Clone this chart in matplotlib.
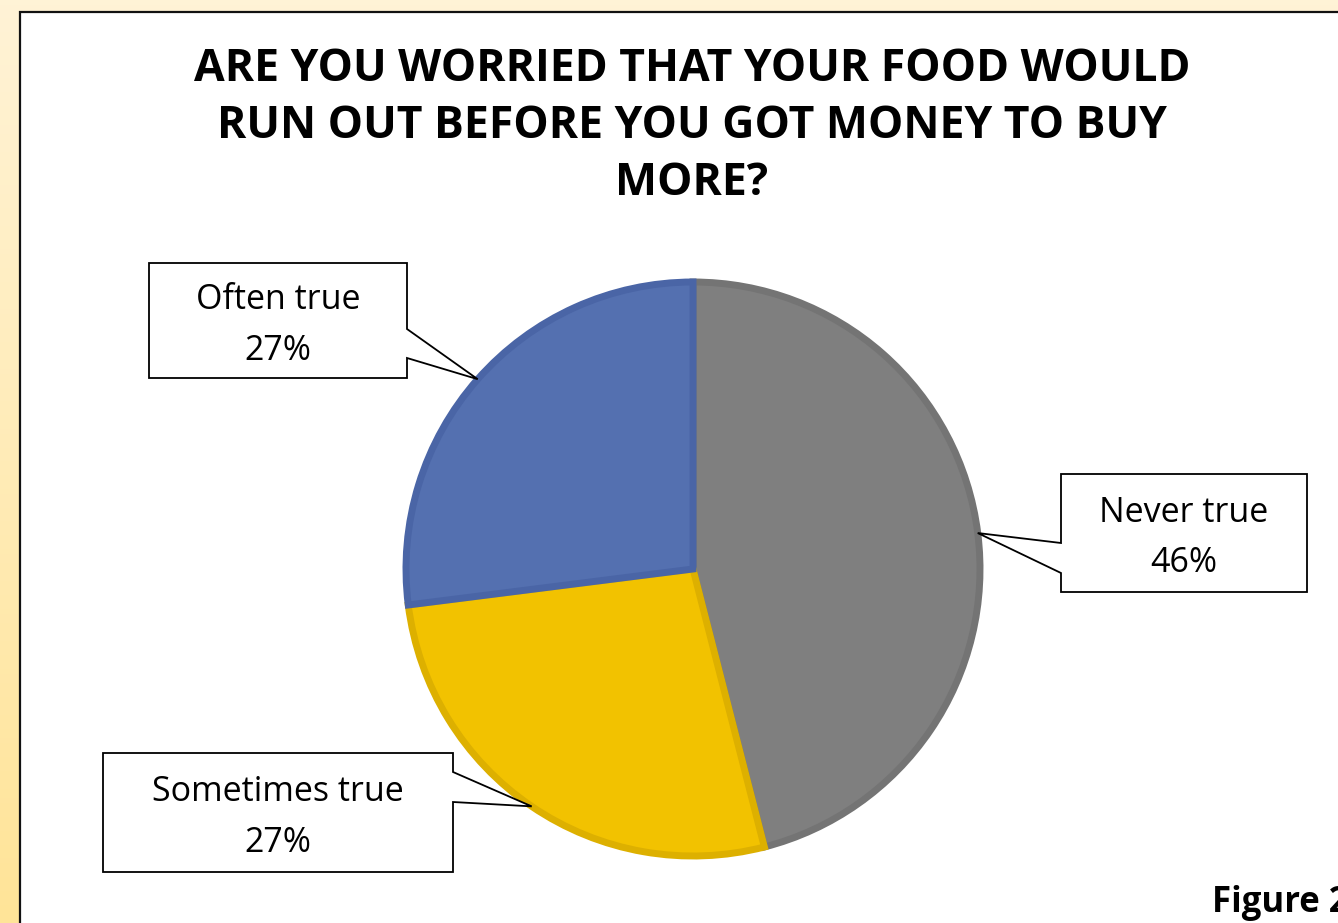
import numpy as np
import matplotlib
matplotlib.use("Agg")
import matplotlib.pyplot as plt
from matplotlib.patches import Rectangle, Polygon

# chart data
labels = ["Never true", "Sometimes true", "Often true"]
shares = [46, 27, 27]
fill_colors = ["#7F7F7F", "#F2C200", "#5470B0"]
edge_colors = ["#747474", "#DDB000", "#4A65A6"]
title = "ARE YOU WORRIED THAT YOUR FOOD WOULD\nRUN OUT BEFORE YOU GOT MONEY TO BUY\nMORE?"

W, H = 1338, 923
CX, CY, R = 693, 569, 287  # pie centre/radius in pixels (y from top)

# callout boxes: left, top, right, bottom, side of pointer, pointer base (y1, y2)
boxes = {
    "Never true": (1061, 474, 1307, 592, "left", (543, 573)),
    "Sometimes true": (103, 753, 453, 872, "right", (772, 802)),
    "Often true": (149, 263, 407, 378, "right", (329, 358)),
}


def fy(y):
    return H - y


fig = plt.figure(figsize=(W / 100, H / 100), dpi=100)
ax = fig.add_axes([0, 0, 1, 1])

# cream background with a warmer strip down the left side
grad = np.linspace(0, 1, 200)[:, None]
top = np.array([255, 243, 214]) / 255
bot = np.array([255, 228, 152]) / 255
img = top[None, None, :] * (1 - grad[:, :, None]) + bot[None, None, :] * grad[:, :, None]
ax.imshow(img, extent=[0, W, 0, H], aspect="auto", zorder=0)
ax.add_patch(Rectangle((20, -10), W, fy(12) + 10, facecolor="white",
                       edgecolor="#111111", linewidth=1.6, zorder=1))

wedges, _ = ax.pie(shares, colors=fill_colors, startangle=90, counterclock=False,
                   center=(CX, fy(CY)), radius=R, frame=True,
                   wedgeprops=dict(linewidth=5))
for w, ec in zip(wedges, edge_colors):
    w.set_edgecolor(ec)
    w.set_zorder(2)

for w, lab, val in zip(wedges, labels, shares):
    l, t, r, b, side, (p1, p2) = boxes[lab]
    mid = np.deg2rad((w.theta1 + w.theta2) / 2)
    tip = (CX + R * np.cos(mid), fy(CY) + R * np.sin(mid))
    if side == "right":
        pts = [(l, fy(t)), (r, fy(t)), (r, fy(p1)), tip, (r, fy(p2)), (r, fy(b)), (l, fy(b))]
    else:
        pts = [(l, fy(t)), (r, fy(t)), (r, fy(b)), (l, fy(b)), (l, fy(p2)), tip, (l, fy(p1))]
    ax.add_patch(Polygon(pts, closed=True, facecolor="white", edgecolor="black",
                         linewidth=1.3, zorder=3))
    ax.text((l + r) / 2, fy((t + b) / 2 + 5), f"{lab}\n{val}%", ha="center", va="center",
            fontsize=24.5, family="Open Sans", linespacing=1.62, zorder=4)

ax.text(692, fy(47), title, ha="center", va="top", fontsize=32, fontweight="bold",
        family="Open Sans", linespacing=1.35, zorder=4)
# the reference clips this text at the right edge
ax.text(1212, fy(912), "Figure 2", ha="left", va="baseline", fontsize=25,
        fontweight="bold", family="Open Sans", zorder=4)

ax.set_xlim(0, W)
ax.set_ylim(0, H)
ax.set_aspect("auto")
ax.axis("off")
fig.savefig("out.png", dpi=100)
